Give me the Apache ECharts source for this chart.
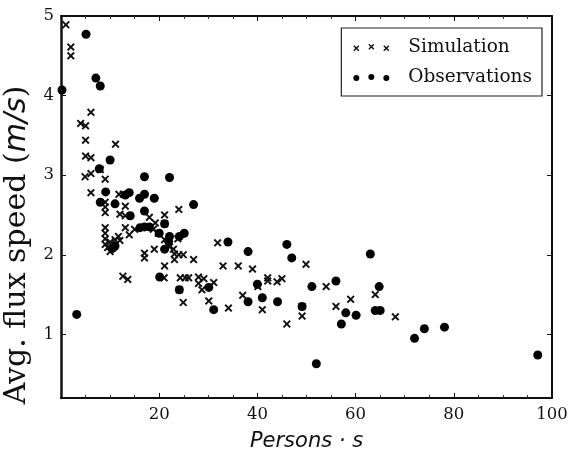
<!DOCTYPE html>
<html>
<head>
<meta charset="utf-8">
<script src="https://cdn.jsdelivr.net/npm/echarts@6/dist/echarts.min.js"></script>
<style>
html,body{margin:0;padding:0;background:#fff;}
#chart{width:570px;height:451px;}
</style>
</head>
<body>
<div id="chart"></div>
<script>
// ---- data ----
const seriesNames = ['Simulation', 'Observations'];
const xTicks = [20, 40, 60, 80, 100];
const yTicks = [1, 2, 3, 4, 5];

const simulation = [
  [1.0,4.89],[2.0,4.61],[2.0,4.50],[6.1,3.79],[4.0,3.65],[5.0,3.62],[5.0,3.44],[11.1,3.39],
  [5.0,3.24],[6.1,3.22],[4.9,2.98],[6.1,3.02],[8.0,3.07],[9.0,2.95],[6.1,2.78],[11.8,2.76],
  [12.7,2.76],[9.0,2.66],[13.1,2.61],[9.0,2.60],[24.0,2.57],[9.0,2.53],[12.0,2.51],[13.1,2.49],
  [18.0,2.47],[21.1,2.50],[19.2,2.40],[21.1,2.39],[9.0,2.34],[13.1,2.34],[15.0,2.32],[18.8,2.32],
  [19.8,2.27],[9.0,2.27],[9.0,2.20],[11.7,2.23],[13.9,2.25],[21.1,2.19],[23.8,2.20],[10.0,2.16],
  [11.0,2.19],[9.0,2.13],[12.0,2.18],[9.5,2.09],[10.0,2.04],[22.1,2.10],[22.9,2.07],[19.0,2.07],
  [17.0,2.02],[17.0,1.96],[23.1,2.01],[24.0,2.00],[24.9,2.00],[23.1,1.94],[27.0,1.94],[21.1,1.86],
  [12.6,1.73],[13.6,1.69],[21.0,1.71],[24.3,1.71],[25.3,1.71],[26.0,1.71],[28.0,1.72],[29.1,1.70],
  [28.0,1.64],[28.7,1.56],[31.1,1.65],[30.1,1.42],[24.1,1.56],[24.9,1.40],[31.9,2.15],[33.0,1.86],
  [36.1,1.86],[39.0,1.82],[34.1,1.33],[37.0,1.49],[40.1,1.60],[42.1,1.71],[42.1,1.67],[41.0,1.31],
  [44.0,1.66],[45.0,1.70],[46.0,1.13],[49.1,1.35],[49.1,1.23],[49.9,1.88],[54.0,1.60],[56.0,1.35],
  [59.0,1.44],[64.0,1.50],[68.1,1.22]
];

const observations = [
  [0.2,4.07],[5.1,4.77],[7.1,4.22],[8.0,4.12],[10.0,3.19],[7.8,3.08],[17.0,2.98],[22.1,2.97],
  [9.1,2.79],[13.1,2.75],[13.9,2.78],[16.0,2.71],[17.0,2.76],[19.0,2.71],[8.0,2.66],[11.0,2.64],
  [27.0,2.63],[17.0,2.55],[14.1,2.49],[21.1,2.39],[16.1,2.34],[17.0,2.35],[18.0,2.35],[20.0,2.27],
  [22.1,2.23],[24.1,2.23],[25.1,2.27],[21.9,2.17],[11.0,2.11],[10.5,2.08],[21.1,2.07],[20.1,1.72],
  [24.1,1.56],[3.2,1.25],[34.0,2.16],[38.1,2.04],[46.0,2.13],[47.0,1.96],[63.0,2.01],[30.1,1.59],
  [31.1,1.31],[38.1,1.41],[40.0,1.63],[41.0,1.46],[44.1,1.41],[49.1,1.35],[51.1,1.60],[56.0,1.67],
  [58.0,1.27],[60.1,1.24],[57.1,1.13],[52.0,0.63],[64.8,1.60],[64.0,1.30],[65.0,1.30],[72.0,0.95],
  [74.0,1.07],[78.1,1.09],[97.1,0.74]
];

// ---- symbol shapes ----
function crossPoly(cx, cy, h, d) {
  const p = [
    [cx-h, cy-h+d],[cx-h+d, cy-h],[cx, cy-d],[cx+h-d, cy-h],[cx+h, cy-h+d],[cx+d, cy],
    [cx+h, cy+h-d],[cx+h-d, cy+h],[cx, cy+d],[cx-h+d, cy+h],[cx-h, cy+h-d],[cx-d, cy]
  ];
  return 'M' + p.map(q => q[0].toFixed(2) + ' ' + q[1].toFixed(2)).join(' L') + ' Z';
}
function circ(cx, cy, r) {
  return 'M' + (cx-r) + ' ' + cy + ' A' + r + ' ' + r + ' 0 1 0 ' + (cx+r) + ' ' + cy +
         ' A' + r + ' ' + r + ' 0 1 0 ' + (cx-r) + ' ' + cy + ' Z';
}
const crossSymbol = 'path://' + crossPoly(5, 5, 5, 1.7);
const crossIcon = 'path://' + crossPoly(3, 5.5, 3, 1.0) + ' ' + crossPoly(18, 4, 3, 1.0) + ' ' + crossPoly(33, 5.5, 3, 1.0);
const dotIcon = 'path://' + circ(3, 5.5, 3) + ' ' + circ(18, 4.5, 3) + ' ' + circ(33, 5.5, 3);

const serif = 'DejaVu Serif';
const ink = '#111';

const chart = echarts.init(document.getElementById('chart'));
chart.setOption({
  backgroundColor: '#fff',
  animation: false,
  grid: { left: 61, right: 18, top: 16, bottom: 53, containLabel: false, outerBoundsMode: 'none' },
  legend: {
    orient: 'vertical',
    right: 28, top: 28,
    padding: [10, 10, 9, 12],
    borderColor: '#222', borderWidth: 1.2,
    itemWidth: 36, itemHeight: 8, itemGap: 11,
    formatter: n => '{g|}{t|' + n + '}',
    textStyle: {
      color: ink,
      rich: {
        g: { width: 14 },
        t: { fontFamily: serif, fontSize: 18.5, color: ink }
      }
    },
    data: [
      { name: seriesNames[0], icon: crossIcon },
      { name: seriesNames[1], icon: dotIcon }
    ]
  },
  xAxis: [{
    type: 'value', min: 0, max: 100, interval: 20, position: 'bottom',
    name: 'Persons · s', nameLocation: 'middle', nameGap: 33,
    nameTextStyle: { fontFamily: 'DejaVu Sans', fontStyle: 'italic', fontSize: 21, color: ink },
    axisLine: { show: true, onZero: false, lineStyle: { color: ink, width: 2 } },
    axisTick: { show: true, inside: true, length: 5, lineStyle: { color: ink, width: 1 } },
    minorTick: { show: true, splitNumber: 4, length: 3, lineStyle: { color: '#333', width: 1 } },
    axisLabel: { showMinLabel: false, margin: 8, fontFamily: serif, fontSize: 16.5, color: ink },
    splitLine: { show: false }
  }, {
    type: 'value', min: 0, max: 100, interval: 20, position: 'top',
    axisLine: { show: true, onZero: false, lineStyle: { color: ink, width: 2 } },
    axisTick: { show: true, inside: true, length: 5, lineStyle: { color: ink, width: 1 } },
    minorTick: { show: true, splitNumber: 4, length: 3, lineStyle: { color: '#333', width: 1 } },
    axisLabel: { show: false },
    splitLine: { show: false }
  }],
  yAxis: [{
    type: 'value', min: 0.2, max: 5, position: 'left',
    name: '{a|Avg. flux speed (}{b|m/s}{a|)}{s|}', nameLocation: 'middle', nameGap: 17, nameRotate: 90,
    nameTextStyle: {
      rich: {
        a: { fontFamily: serif, fontSize: 30, color: ink },
        b: { fontFamily: 'DejaVu Sans', fontStyle: 'italic', fontSize: 30, color: ink },
        s: { width: 76 }
      }
    },
    axisLine: { show: true, onZero: false, lineStyle: { color: ink, width: 2.5 } },
    axisTick: { show: true, inside: true, length: 5, customValues: yTicks, lineStyle: { color: ink, width: 1 } },
    axisLabel: { customValues: yTicks, margin: 7, fontFamily: serif, fontSize: 16.5, color: ink },
    splitLine: { show: false }
  }, {
    type: 'value', min: 0.2, max: 5, position: 'right',
    axisLine: { show: true, onZero: false, lineStyle: { color: ink, width: 2 } },
    axisTick: { show: true, inside: true, length: 5, customValues: yTicks, lineStyle: { color: ink, width: 1 } },
    axisLabel: { show: false },
    splitLine: { show: false }
  }],
  series: [{
    name: seriesNames[0], type: 'scatter', xAxisIndex: 0, yAxisIndex: 0,
    symbol: crossSymbol, symbolSize: 8,
    itemStyle: { color: '#111', opacity: 1 },
    data: simulation
  }, {
    name: seriesNames[1], type: 'scatter', xAxisIndex: 0, yAxisIndex: 0,
    symbol: 'circle', symbolSize: 9,
    itemStyle: { color: '#000', opacity: 1 },
    data: observations
  }]
});
</script>
</body>
</html>
